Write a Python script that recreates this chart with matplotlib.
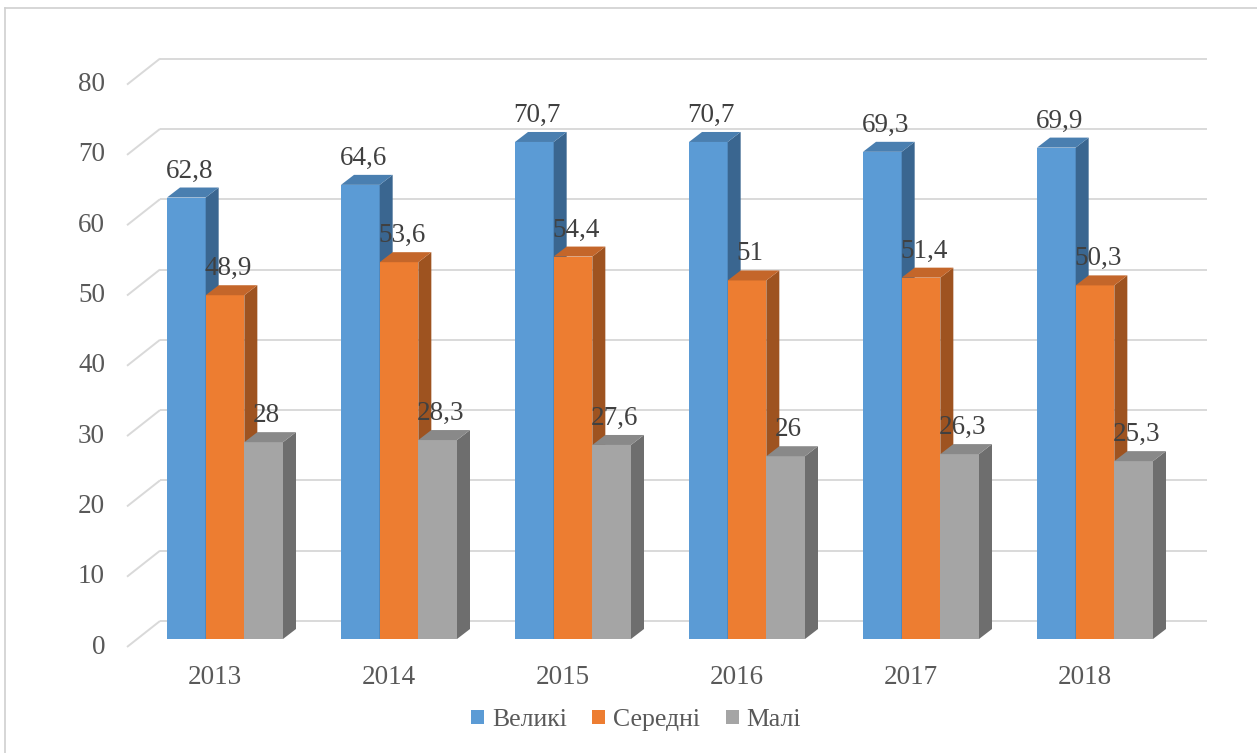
import matplotlib
matplotlib.use("Agg")
import matplotlib.pyplot as plt
from matplotlib.patches import Polygon, Patch
from matplotlib.lines import Line2D
from matplotlib.font_manager import FontProperties

years = ["2013", "2014", "2015", "2016", "2017", "2018"]
series_names = ["Великі", "Середні", "Малі"]
velyki = [62.8, 64.6, 70.7, 70.7, 69.3, 69.9]
seredni = [48.9, 53.6, 54.4, 51.0, 51.4, 50.3]
mali = [28.0, 28.3, 27.6, 26.0, 26.3, 25.3]
value_labels = [
    ["62,8", "64,6", "70,7", "70,7", "69,3", "69,9"],
    ["48,9", "53,6", "54,4", "51", "51,4", "50,3"],
    ["28", "28,3", "27,6", "26", "26,3", "25,3"],
]
y_ticks = [0, 10, 20, 30, 40, 50, 60, 70, 80]

front_colors = ["#5B9BD5", "#ED7D31", "#A5A5A5"]
top_colors = ["#4A7FB0", "#C4662A", "#898989"]
side_colors = ["#3A6690", "#9E5320", "#6E6E6E"]

W, H = 1257, 753
fig = plt.figure(figsize=(W / 100, H / 100), dpi=100)
ax = fig.add_axes([0, 0, 1, 1])
ax.axis("off")

PX = 174.0   # pixels per category
PY = 7.03    # pixels per value unit
X0, Y0 = 225.0, 639.0
ax.set_xlim(-X0 / PX, (W - X0) / PX)
ax.set_ylim((Y0 - H) / PY, Y0 / PY)

def dxp(px):
    return px / PX

def dyp(px):
    return px / PY

serif = "Liberation Serif"
fs = 19.5

# wall geometry (relative to bar front plane)
front_dx, front_dy = dxp(-11), dyp(-8)
back_dx, back_dy = dxp(22), dyp(18)
grid_color = "#D9D9D9"
nc = len(years)
for v in y_ticks:
    xl = -0.5
    xr = nc - 0.5
    ax.plot([xl + front_dx, xl + back_dx], [v + front_dy, v + back_dy],
            color=grid_color, lw=1.4, zorder=1, solid_capstyle="butt")
    ax.plot([xl + back_dx, xr + back_dx + dxp(3)], [v + back_dy, v + back_dy],
            color=grid_color, lw=1.4, zorder=1, solid_capstyle="butt")
    ax.text(xl + front_dx - dxp(22), v + front_dy, str(v), ha="right",
            va="center", fontsize=fs, color="#595959", family=serif)

# bars
bw = 116.0 / 3 / PX
ddx, ddy = dxp(13), dyp(10)
data = [velyki, seredni, mali]
z = 2
for i in range(nc):
    for s in range(3):
        v = data[s][i]
        x0 = i + (s - 1.5) * bw
        x1 = x0 + bw
        ax.bar(x0, v, width=bw, align="edge", color=front_colors[s],
               edgecolor="none", zorder=z)
        side = Polygon([(x1, 0), (x1, v), (x1 + ddx, v + ddy), (x1 + ddx, ddy)],
                       closed=True, facecolor=side_colors[s], edgecolor="none",
                       zorder=z)
        top = Polygon([(x0, v), (x1, v), (x1 + ddx, v + ddy), (x0 + ddx, v + ddy)],
                      closed=True, facecolor=top_colors[s], edgecolor="none",
                      zorder=z)
        ax.add_patch(side)
        ax.add_patch(top)
        z += 1
    for s in range(3):
        v = data[s][i]
        xc = i + (s - 1) * bw + dxp(3)
        ax.text(xc, v + ddy + dyp(4), value_labels[s][i], ha="center",
                va="bottom", fontsize=fs, color="#404040",
                family=serif, zorder=100)
    ax.text(i - dxp(10), (Y0 - 678) / PY, years[i], ha="center", va="center",
            fontsize=fs, color="#595959", family=serif)

handles = [Patch(facecolor=c, edgecolor="none") for c in front_colors]
leg = fig.legend(handles, series_names, loc="center",
                 bbox_to_anchor=(636 / W, 1 - 720 / H), ncol=3, frameon=False,
                 prop=FontProperties(family=serif, size=18.5),
                 handlelength=0.5, handleheight=0.5, handletextpad=0.3,
                 columnspacing=1.0)
for t in leg.get_texts():
    t.set_color("#595959")

# chart border
fig.add_artist(Line2D([5 / W, 5 / W], [0, 1 - 8 / H], transform=fig.transFigure,
                      color="#D0D0D0", lw=1.2))
fig.add_artist(Line2D([5 / W, 1], [1 - 8 / H, 1 - 8 / H], transform=fig.transFigure,
                      color="#D0D0D0", lw=1.2))

fig.savefig("out.png", dpi=100)
